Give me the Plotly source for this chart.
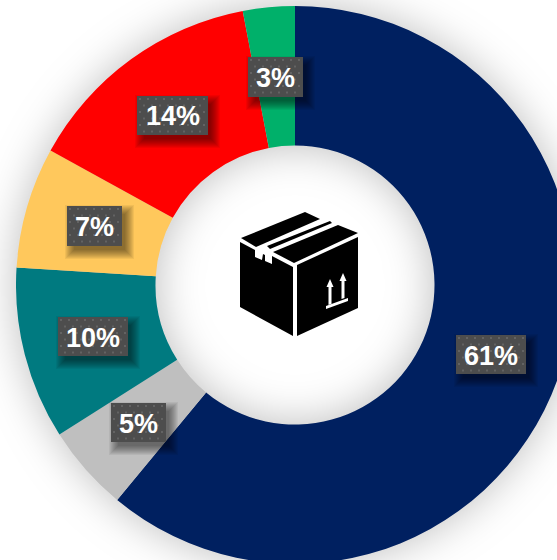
import plotly.graph_objects as go

# Share of shipments by category, clockwise from twelve o'clock
categories = ["Navy", "Silver", "Teal", "Amber", "Red", "Green"]
shares = [61, 5, 10, 7, 14, 3]
slice_colors = ["#002060", "#BFBFBF", "#007A80", "#FFC85C", "#FF0000", "#00B06A"]

# Canvas is slightly larger than the viewport so the ring can run off its right edge
W, H = 640, 600
CX, CY, R = 295, 285, 279

# Label plates as left, top, right, bottom pixels, in the order of the slices
plates = [
    (456, 335, 526, 374),
    (111, 403, 166, 442),
    (58, 317, 128, 356),
    (67, 206, 122, 246),
    (137, 96, 208, 135),
    (248, 57, 303, 97),
]


def px(x):
    return x / W


def py(y):
    return 1 - y / H


def path_from(points):
    return "M" + " L".join(f"{px(x):.5f},{py(y):.5f}" for x, y in points) + " Z"


def solid(points, color):
    return dict(type="path", xref="paper", yref="paper", path=path_from(points),
                fillcolor=color, line_width=0, layer="above")


def rect(x0, y0, x1, y1, color, opacity=1.0):
    return dict(type="rect", xref="paper", yref="paper", x0=px(x0), x1=px(x1),
                y0=py(y0), y1=py(y1), fillcolor=color, opacity=opacity,
                line_width=0, layer="above")


shapes = []
annotations = []

# Label plates: feathered shadow, dark fill, staggered dot texture
for (x0, y0, x1, y1), value in zip(plates, shares):
    for grow in (7, 6, 5, 4, 3, 2, 1, 0, -1, -2):
        shapes.append(rect(x0 + 5 - grow, y0 + 6 - grow, x1 + 5 + grow, y1 + 6 + grow,
                           "#000000", 0.055))
    shapes.append(rect(x0, y0, x1, y1, "#4D4D4D"))
    dots = []
    row = 0
    y = y0 + 2
    while y < y1 - 1:
        x = x0 + 2 + (4 if row % 2 else 0)
        while x < x1 - 1:
            dots.append(f"M{px(x):.5f},{py(y):.5f} L{px(x + 2):.5f},{py(y):.5f} "
                        f"L{px(x + 2):.5f},{py(y + 2):.5f} L{px(x):.5f},{py(y + 2):.5f} Z")
            x += 8
        y += 6.5
        row += 1
    shapes.append(dict(type="path", xref="paper", yref="paper", path=" ".join(dots),
                       fillcolor="#636363", line_width=0, layer="above"))
    annotations.append(dict(
        x=px((x0 + x1) / 2), y=py((y0 + y1) / 2 + 1), xref="paper", yref="paper",
        text=f"<b>{value}%</b>", showarrow=False, xanchor="center", yanchor="middle",
        font=dict(family="Liberation Sans, Arial, sans-serif", size=27, color="#FFFFFF"),
    ))

# Parcel icon in the hole of the ring
BLACK = "#000000"
WHITE = "#FFFFFF"
shapes += [
    solid([(240, 242), (255, 250), (255, 257), (262, 260), (263, 254), (265, 255),
           (265, 261), (272, 264), (272, 256), (293, 267), (293, 336), (240, 307)], BLACK),
    solid([(297, 265), (358, 237), (358, 308), (297, 336)], BLACK),
    solid([(241, 238), (305, 212), (320, 219), (256, 247)], BLACK),
    solid([(273, 252), (338, 225), (358, 233), (294, 263)], BLACK),
    solid([(267, 246), (330, 221), (332, 223), (270, 249)], BLACK),
    solid([(328.5, 286), (328.5, 305), (331.5, 304), (331.5, 286)], WHITE),
    solid([(326.5, 287), (330, 279), (333.5, 287)], WHITE),
    solid([(341.5, 280), (341.5, 299), (344.5, 298), (344.5, 280)], WHITE),
    solid([(339.5, 281), (343, 273), (346.5, 281)], WHITE),
    solid([(326, 306), (348, 298), (348, 301), (326, 309)], WHITE),
]

fig = go.Figure(go.Pie(
    labels=categories,
    values=shares,
    sort=False,
    direction="clockwise",
    rotation=0,
    hole=0.5,
    textinfo="none",
    hoverinfo="label+percent",
    showlegend=False,
    marker=dict(colors=slice_colors, line=dict(width=0)),
    domain=dict(x=[px(CX - R), px(CX + R)], y=[py(CY + R), py(CY - R)]),
))

fig.update_layout(
    width=W,
    height=H,
    margin=dict(l=0, r=0, t=0, b=0),
    paper_bgcolor="#FFFFFF",
    plot_bgcolor="#FFFFFF",
    shapes=shapes,
    annotations=annotations,
)

# Page tweaks: crop to the viewport and give the ring a soft glow
post = """
document.documentElement.style.overflow = 'hidden';
document.body.style.overflow = 'hidden';
document.body.style.margin = '0';
document.querySelectorAll('.pielayer').forEach(function (el) {
  el.style.filter = 'drop-shadow(0px 0px 22px rgba(0,0,0,0.26))';
});
"""

fig.write_html("out.html", config=dict(displayModeBar=False), post_script=post)
